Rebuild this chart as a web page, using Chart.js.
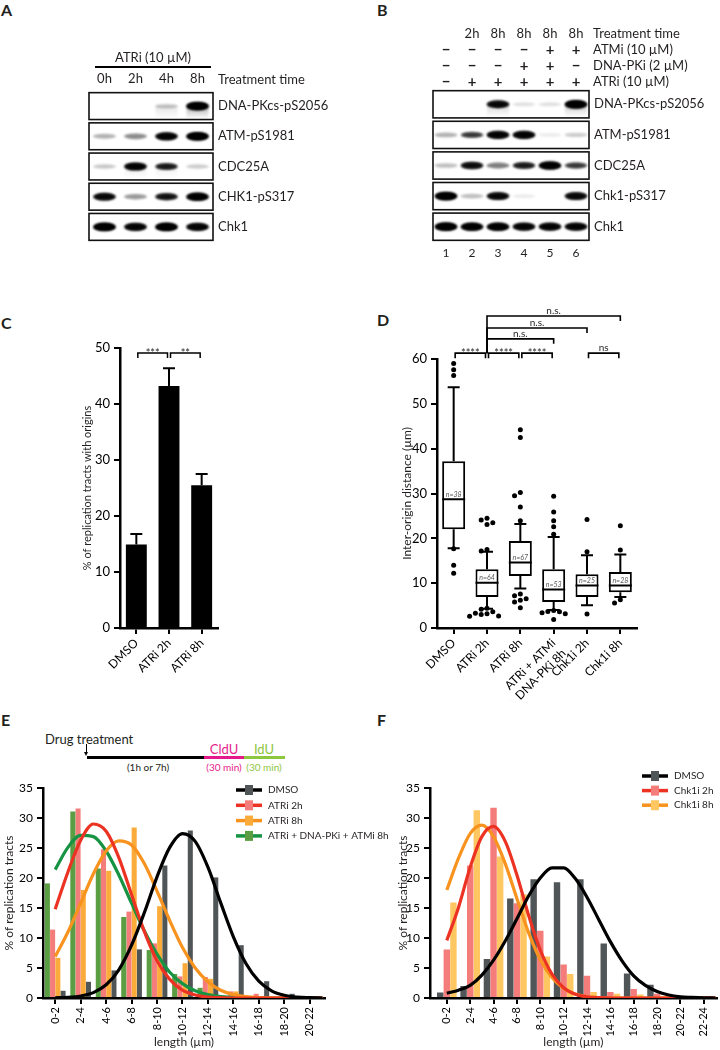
<!DOCTYPE html>
<html>
<head>
<meta charset="utf-8">
<script src="https://cdn.jsdelivr.net/npm/chart.js@4.4.1/dist/chart.umd.min.js"></script>
<style>
  body { margin: 0; background: #fff; width: 720px; height: 1050px; position: relative; overflow: hidden;
         font-family: Lato, "Open Sans", sans-serif; color: #231f20; }
  canvas { position: absolute; }
  .panel { position: absolute; font-size: 16px; font-weight: 700; line-height: 1; }
  .t { position: absolute; white-space: nowrap; line-height: 1; text-align: center; }
  .bar { position: absolute; height: 3px; }
</style>
</head>
<body>
<div class="panel" style="left:1px;top:2px">A</div>
<div class="panel" style="left:377px;top:2px">B</div>
<div class="panel" style="left:1px;top:315px">C</div>
<div class="panel" style="left:377px;top:312px">D</div>
<div class="panel" style="left:1px;top:712px">E</div>
<div class="panel" style="left:377px;top:712px">F</div>

<!-- labelling scheme for panel E -->
<div class="t" style="left:45px;top:733px;font-size:13px;text-align:left">Drug treatment</div>
<div style="position:absolute;left:86px;top:744px;width:1px;height:10px;background:#000"></div>
<div style="position:absolute;left:84px;top:752px;width:0;height:0;border-left:2.5px solid transparent;border-right:2.5px solid transparent;border-top:4px solid #000"></div>
<div class="bar" style="left:87px;top:756px;width:117px;background:#000"></div>
<div class="bar" style="left:204px;top:756px;width:40px;background:#e6198b"></div>
<div class="bar" style="left:244px;top:756px;width:41px;background:#8dc63f"></div>
<div class="t" style="left:108px;top:762px;width:80px;font-size:10px">(1h or 7h)</div>
<div class="t" style="left:194px;top:743px;width:60px;font-size:13px;color:#e6198b">CldU</div>
<div class="t" style="left:234px;top:743px;width:60px;font-size:13px;color:#8dc63f">IdU</div>
<div class="t" style="left:194px;top:762px;width:60px;font-size:10px;color:#e6198b">(30 min)</div>
<div class="t" style="left:234px;top:762px;width:60px;font-size:10px;color:#8dc63f">(30 min)</div>

<canvas id="blotA" width="360" height="215" style="left:0;top:40px"></canvas>
<canvas id="blotB" width="360" height="262" style="left:360px;top:0"></canvas>
<canvas id="chartC" width="190" height="400" style="left:40px;top:300px"></canvas>
<canvas id="chartD" width="290" height="400" style="left:360px;top:300px"></canvas>
<canvas id="chartE" width="400" height="280" style="left:0;top:770px"></canvas>
<canvas id="chartF" width="360" height="280" style="left:360px;top:770px"></canvas>

<script>
const FONT = 'Lato, "Open Sans", sans-serif';
const INK = '#231f20';

// ---- A: western blot, ATRi time course ----
const lanesA = ['0h', '2h', '4h', '8h'];
const rowsA = ['DNA-PKcs-pS2056', 'ATM-pS1981', 'CDC25A', 'CHK1-pS317', 'Chk1'];
const bandsA = [
  [0, 0, 0.22, 1.0],
  [0.3, 0.45, 0.9, 1.0],
  [0.22, 0.9, 0.7, 0.2],
  [0.85, 0.4, 0.75, 0.95],
  [1.0, 0.9, 1.0, 0.9],
];
const smearA = [
  [0, 0, 0.1, 0.3],
  [0, 0, 0, 0],
  [0, 0.06, 0.05, 0],
  [0, 0, 0, 0],
  [0, 0, 0, 0],
];
const treatA = 'ATRi (10 µM)';

// ---- B: western blot, inhibitor combinations ----
const lanesB = ['1', '2', '3', '4', '5', '6'];
const timesB = ['', '2h', '8h', '8h', '8h', '8h'];
const atmiB = ['−', '−', '−', '−', '+', '+'];
const dnapkiB = ['−', '−', '−', '+', '+', '−'];
const atriB = ['−', '+', '+', '+', '+', '+'];
const rowsB = ['DNA-PKcs-pS2056', 'ATM-pS1981', 'CDC25A', 'Chk1-pS317', 'Chk1'];
const bandsB = [
  [0, 0, 0.85, 0.12, 0.12, 1.0],
  [0.3, 0.55, 0.9, 0.9, 0.08, 0.2],
  [0.25, 0.8, 0.5, 0.7, 0.95, 0.55],
  [1.0, 0.25, 0.85, 0.08, 0, 0.85],
  [1.0, 0.95, 0.95, 0.9, 0.9, 0.9],
];
const smearB = [
  [0, 0, 0.15, 0, 0, 0.2],
  [0, 0, 0, 0, 0, 0],
  [0, 0, 0, 0, 0, 0],
  [0, 0, 0, 0, 0, 0],
  [0, 0, 0, 0, 0, 0],
];

// ---- C: % of tracts with origins ----
const catsC = ['DMSO', 'ATRi 2h', 'ATRi 8h'];
const meansC = [14.9, 43.2, 25.5];
const semC = [1.9, 3.2, 2.0];
const sigC = [
  { a: 0, b: 1, lvl: 49.1, txt: '***' },
  { a: 1, b: 2, lvl: 49.1, txt: '**' },
];

// ---- D: inter-origin distance box plots ----
const catsD = ['DMSO', 'ATRi 2h', 'ATRi 8h', ['ATRi + ATMi', '+ DNA-PKi 8h'], 'Chk1i 2h', 'Chk1i 8h'];
const q1D = [22.0, 6.9, 11.6, 5.8, 6.9, 8.0];
const medD = [28.7, 10.1, 14.6, 8.6, 9.5, 9.5];
const q3D = [37.2, 13.1, 19.4, 13.1, 12.0, 12.5];
const loD = [17.8, 4.3, 8.8, 4.0, 5.1, 6.9];
const hiD = [53.7, 17.0, 23.2, 20.3, 16.2, 16.4];
const nD = ['n=38', 'n=64', 'n=67', 'n=53', 'n=25', 'n=28'];
const outD = [
  [59.0, 57.6, 56.3, 17.7, 14.0, 12.2],
  [24.5, 24.1, 23.5, 23.1, 17.5, 17.2, 4.4, 4.2, 3.6, 3.3, 3.2, 3.0, 2.7, 2.6],
  [44.2, 42.5, 30.2, 29.5, 27.0, 23.9, 7.6, 7.2, 6.5, 6.2, 5.8, 4.5],
  [29.4, 25.9, 23.9, 22.6, 20.9, 3.9, 3.7, 3.6, 3.4, 3.2, 1.9],
  [24.2, 17.0, 3.1],
  [22.8, 17.4, 6.3, 5.6],
];
const sigD = [
  { a: 0, b: 1, lvl: 61.3, txt: '****' },
  { a: 1, b: 2, lvl: 61.3, txt: '****' },
  { a: 2, b: 3, lvl: 61.3, txt: '****' },
  { a: 4, b: 5, lvl: 61.3, txt: 'ns' },
  { a: 1, b: 3, lvl: 64.5, txt: 'n.s.' },
  { a: 1, b: 4, lvl: 66.9, txt: 'n.s.' },
  { a: 1, b: 5, lvl: 69.6, txt: 'n.s.' },
];

// ---- E: tract length distributions, ATRi ----
const binsE = ['0-2', '2-4', '4-6', '6-8', '8-10', '10-12', '12-14', '14-16', '16-18', '18-20', '20-22'];
const dmsoE = [1.2, 2.7, 4.6, 8.1, 22.1, 27.9, 20.1, 8.8, 2.8, 0.7, 0];
const atr2E = [11.4, 31.6, 24.8, 14.4, 9.1, 3.6, 3.5, 1.1, 0.7, 0.1, 0];
const atr8E = [6.7, 18.0, 21.2, 28.4, 15.3, 5.8, 3.2, 1.1, 0.3, 0.1, 0];
const comboE = [19.1, 31.1, 21.6, 13.5, 8.0, 4.0, 1.7, 0, 0, 0, 0];
const fitXE = [0, 0.5, 1, 1.5, 2, 2.5, 3, 3.5, 4, 4.5, 5, 5.5, 6, 6.5, 7, 7.5, 8, 8.5, 9, 9.5, 10, 10.5];
const fitDmsoE = [0.03, 0.1, 0.34, 0.9, 2.2, 4.7, 8.8, 14.2, 20.2, 25.1, 27.4, 26.1, 21.8, 15.9, 10.2, 5.7, 2.8, 1.2, 0.45, 0.15, 0.05, 0];
const fitAtr2E = [14.8, 21.0, 26.3, 29.0, 27.8, 23.4, 17.2, 11.1, 6.2, 3.1, 1.3, 0.5, 0.15, 0.05, 0, 0, 0, 0, 0, 0, 0, 0];
const fitAtr8E = [6.9, 11.0, 15.8, 20.7, 24.5, 26.2, 25.5, 22.4, 17.8, 12.9, 8.4, 5.0, 2.7, 1.3, 0.57, 0.23, 0.08, 0.03, 0, 0, 0, 0];
const fitComboE = [21.4, 25.1, 27.1, 26.9, 24.5, 20.5, 15.8, 11.2, 7.3, 4.3, 2.4, 1.2, 0.56, 0.23, 0.1, 0.03, 0, 0, 0, 0, 0, 0];

// ---- F: tract length distributions, Chk1i ----
const binsF = ['0-2', '2-4', '4-6', '6-8', '8-10', '10-12', '12-14', '14-16', '16-18', '18-20', '20-22', '22-24'];
const dmsoF = [0.9, 2.0, 6.5, 16.6, 19.8, 19.3, 19.8, 9.1, 4.1, 2.2, 0.3, 0];
const chk2F = [8.1, 22.1, 31.7, 15.8, 11.2, 5.6, 3.7, 1.0, 1.5, 0.7, 0.1, 0];
const chk8F = [15.9, 31.3, 23.6, 17.3, 6.9, 4.0, 1.0, 0.7, 0.6, 0.3, 0, 0];
const fitXF = [0, 0.5, 1, 1.5, 2, 2.5, 3, 3.5, 4, 4.5, 5, 5.5, 6, 6.5, 7, 7.5, 8, 8.5, 9, 9.5, 10, 10.5, 11, 11.5];
const fitDmsoF = [0.8, 1.3, 2.1, 3.8, 6.3, 9.5, 13.2, 17.0, 20.0, 21.7, 21.7, 19.9, 16.8, 13.1, 9.4, 6.2, 3.7, 2.1, 1.07, 0.5, 0.2, 0.1, 0.03, 0];
const fitChk2F = [9.6, 15.1, 21.8, 26.9, 28.6, 26.1, 20.5, 13.8, 8.0, 4.0, 1.7, 0.63, 0.2, 0.05, 0, 0, 0, 0, 0, 0, 0, 0, 0, 0];
const fitChk8F = [18.0, 23.3, 27.4, 28.8, 26.9, 22.4, 16.6, 10.9, 6.4, 3.4, 1.6, 0.65, 0.24, 0.08, 0, 0, 0, 0, 0, 0, 0, 0, 0, 0];

Chart.defaults.font.family = FONT;
Chart.defaults.color = INK;
Chart.defaults.animation = false;
Chart.defaults.responsive = false;
Chart.defaults.plugins.legend.display = false;
Chart.defaults.plugins.tooltip.enabled = false;

// ---------- western blots ----------
function drawBand(ctx, x, y, v, s, boxH) {
  ctx.save();
  if (s > 0) {
    const g = ctx.createLinearGradient(0, y, 0, y + boxH * 0.48);
    g.addColorStop(0, `rgba(0,0,0,${s})`);
    g.addColorStop(1, 'rgba(0,0,0,0)');
    ctx.filter = 'blur(1px)';
    ctx.fillStyle = g;
    ctx.fillRect(x - 11, y, 22, boxH * 0.48);
  }
  if (v > 0) {
    ctx.filter = 'blur(1.3px)';
    ctx.fillStyle = `rgba(0,0,0,${Math.min(1, v)})`;
    ctx.beginPath();
    ctx.ellipse(x, y, 11.5, 1.6 + 2.8 * v, 0, 0, Math.PI * 2);
    ctx.fill();
    if (v > 0.5) {
      ctx.beginPath();
      ctx.ellipse(x, y, 10, 1 + 2.2 * v, 0, 0, Math.PI * 2);
      ctx.fill();
    }
  }
  ctx.restore();
}

const blotPlugin = {
  id: 'blotBands',
  afterDatasetsDraw(chart) {
    const { ctx, chartArea: ca, scales: { y } } = chart;
    const step = Math.abs(y.getPixelForValue(1) - y.getPixelForValue(0));
    const boxH = step * 0.89;
    const pts = chart.data.datasets[0].data;
    chart.getDatasetMeta(0).data.forEach((el, i) => {
      const cy = el.y;
      ctx.save();
      ctx.beginPath();
      ctx.rect(ca.left, cy - boxH / 2, ca.right - ca.left, boxH);
      ctx.clip();
      drawBand(ctx, el.x, el.y, pts[i].v, pts[i].s, boxH);
      ctx.restore();
    });
    ctx.save();
    ctx.strokeStyle = '#111';
    ctx.lineWidth = 1.6;
    y.getLabels().forEach((_, r) => {
      const cy = y.getPixelForValue(r);
      ctx.strokeRect(ca.left, cy - boxH / 2, ca.right - ca.left, boxH);
    });
    ctx.restore();
  }
};

function blotChart(id, lanes, rows, bands, smear, xPos, xHeight, yWidth, padding, header) {
  const pts = [];
  rows.forEach((r, ri) => lanes.forEach((l, li) => pts.push({ x: l, y: r, v: bands[ri][li], s: smear[ri][li] })));
  return new Chart(document.getElementById(id), {
    type: 'scatter',
    data: { datasets: [{ data: pts, pointRadius: 0, pointHoverRadius: 0 }] },
    options: {
      events: [],
      layout: { padding },
      scales: {
        x: {
          type: 'category', labels: lanes, position: xPos, offset: true,
          grid: { display: false, drawTicks: false }, border: { display: false },
          ticks: { font: { size: xPos === 'top' ? 13 : 12 }, color: INK, padding: 4 },
          afterFit: s => { s.height = xHeight; },
        },
        y: {
          type: 'category', labels: rows, position: 'right', offset: true,
          grid: { display: false, drawTicks: false }, border: { display: false },
          ticks: { font: { size: 13 }, color: INK, padding: 5 },
          afterFit: s => { s.width = yWidth; },
        },
      },
    },
    plugins: [blotPlugin, header],
  });
}

const headerA = {
  id: 'headerA',
  afterDraw(chart) {
    const { ctx, chartArea: ca } = chart;
    ctx.save();
    ctx.fillStyle = INK;
    ctx.font = `13px ${FONT}`;
    ctx.textBaseline = 'middle';
    const l = ca.left + 6, r = ca.right - 2;
    ctx.textAlign = 'center';
    ctx.fillText(treatA, (l + r) / 2, 18);
    ctx.lineWidth = 2;
    ctx.strokeStyle = '#000';
    ctx.beginPath(); ctx.moveTo(l, 27); ctx.lineTo(r, 27); ctx.stroke();
    ctx.textAlign = 'left';
    ctx.fillText('Treatment time', ca.right + 5, ca.top - 11);
    ctx.restore();
  }
};

const headerB = {
  id: 'headerB',
  afterDraw(chart) {
    const { ctx, chartArea: ca, scales: { x } } = chart;
    const rows = [
      ['Treatment time', timesB],
      ['ATMi (10 µM)', atmiB],
      ['DNA-PKi (2 µM)', dnapkiB],
      ['ATRi (10 µM)', atriB],
    ];
    ctx.save();
    ctx.fillStyle = INK;
    ctx.textBaseline = 'middle';
    rows.forEach(([label, vals], k) => {
      const cy = ca.top - 55 + k * 16;
      ctx.textAlign = 'center';
      vals.forEach((v, i) => {
        ctx.font = k === 0 ? `13px ${FONT}` : `bold 15px ${FONT}`;
        ctx.fillText(v, x.getPixelForValue(i), cy);
      });
      ctx.font = `13px ${FONT}`;
      ctx.textAlign = 'left';
      ctx.fillText(label, ca.right + 4, cy);
    });
    ctx.restore();
  }
};

blotChart('blotA', lanesA, rowsA, bandsA, smearA, 'top', 20, 147, { left: 89, top: 31, right: 0, bottom: 13 }, headerA);
blotChart('blotB', lanesB, rowsB, bandsB, smearB, 'bottom', 20, 131, { left: 73, top: 89, right: 0, bottom: 0 }, headerB);

// ---------- shared helpers ----------
function bracket(ctx, x1, x2, yTop, leg1, leg2, text) {
  ctx.beginPath();
  ctx.moveTo(x1, leg1); ctx.lineTo(x1, yTop); ctx.lineTo(x2, yTop); ctx.lineTo(x2, leg2);
  ctx.stroke();
  const star = text.indexOf('*') === 0;
  ctx.font = star ? `11px ${FONT}` : `10px ${FONT}`;
  ctx.textAlign = 'center';
  ctx.textBaseline = 'alphabetic';
  ctx.fillText(text, (x1 + x2) / 2, star ? yTop + 4 : yTop - 2);
}

function prismY(min, max, step, size, title, titleSize, titlePad, width) {
  return {
    min, max,
    ticks: { stepSize: step, font: { size }, color: '#000', padding: 4 },
    grid: { drawOnChartArea: false, tickLength: 6, color: '#000', lineWidth: 2 },
    border: { color: '#000', width: 2.5 },
    title: { display: true, text: title, color: INK, font: { size: titleSize }, padding: { top: titlePad, bottom: 0 } },
    afterFit: s => { s.width = width; },
  };
}

// ---------- C ----------
const extrasC = {
  id: 'extrasC',
  afterDatasetsDraw(chart) {
    const { ctx, scales: { x, y } } = chart;
    ctx.save();
    ctx.strokeStyle = '#000';
    ctx.lineWidth = 2;
    meansC.forEach((m, i) => {
      const px = x.getPixelForValue(i);
      const top = y.getPixelForValue(m + semC[i]);
      ctx.beginPath();
      ctx.moveTo(px, y.getPixelForValue(m)); ctx.lineTo(px, top);
      ctx.moveTo(px - 6, top); ctx.lineTo(px + 6, top);
      ctx.stroke();
    });
    ctx.lineWidth = 1.5;
    ctx.fillStyle = INK;
    sigC.forEach(s => {
      const yl = y.getPixelForValue(s.lvl);
      bracket(ctx, x.getPixelForValue(s.a) + 1.5, x.getPixelForValue(s.b) - 1.5, yl, yl + 5, yl + 5, s.txt);
    });
    ctx.restore();
  }
};

new Chart(document.getElementById('chartC'), {
  type: 'bar',
  data: { labels: catsC, datasets: [{ data: meansC, backgroundColor: '#000', barPercentage: 0.64, categoryPercentage: 1 }] },
  options: {
    events: [],
    layout: { padding: { top: 48, right: 12, left: 0, bottom: 0 } },
    scales: {
      x: {
        grid: { drawOnChartArea: false, offset: false, tickLength: 6, color: '#000', lineWidth: 2 },
        border: { color: '#000', width: 2.5 },
        ticks: { autoSkip: false, minRotation: 45, maxRotation: 45, font: { size: 12 }, color: '#000', padding: 2 },
        afterFit: s => { s.height = 72; },
      },
      y: prismY(0, 50, 10, 13, '% of replication tracts with origins', 11, 41, 80),
    },
  },
  plugins: [extrasC],
});

// ---------- D ----------
function swarm(values, y, cx, r) {
  const placed = [];
  values.slice().sort((a, b) => b - a).forEach(v => {
    const py = y.getPixelForValue(v);
    for (const k of [0, -1, 1, -2, 2, -3, 3]) {
      const px = cx + k * (2 * r + 0.8);
      if (placed.every(p => Math.hypot(p.x - px, p.y - py) >= 2 * r + 0.2)) {
        placed.push({ x: px, y: py });
        break;
      }
    }
  });
  return placed;
}

const extrasD = {
  id: 'extrasD',
  afterDatasetsDraw(chart) {
    const { ctx, scales: { x, y } } = chart;
    const meta = chart.getDatasetMeta(0);
    ctx.save();
    ctx.strokeStyle = '#000';
    ctx.fillStyle = '#000';
    ctx.lineWidth = 2;
    medD.forEach((m, i) => {
      const px = x.getPixelForValue(i);
      const hw = meta.data[i].width / 2;
      const pm = y.getPixelForValue(m);
      ctx.beginPath();
      ctx.moveTo(px - hw, pm); ctx.lineTo(px + hw, pm);
      ctx.moveTo(px, y.getPixelForValue(q3D[i])); ctx.lineTo(px, y.getPixelForValue(hiD[i]));
      ctx.moveTo(px - 6, y.getPixelForValue(hiD[i])); ctx.lineTo(px + 6, y.getPixelForValue(hiD[i]));
      ctx.moveTo(px, y.getPixelForValue(q1D[i])); ctx.lineTo(px, y.getPixelForValue(loD[i]));
      ctx.moveTo(px - 6, y.getPixelForValue(loD[i])); ctx.lineTo(px + 6, y.getPixelForValue(loD[i]));
      ctx.stroke();
      swarm(outD[i], y, px, 2.5).forEach(p => {
        ctx.beginPath(); ctx.arc(p.x, p.y, 2.5, 0, Math.PI * 2); ctx.fill();
      });
    });
    ctx.fillStyle = '#58595b';
    ctx.font = `italic 7px ${FONT}`;
    ctx.textAlign = 'center';
    ctx.textBaseline = 'bottom';
    nD.forEach((t, i) => ctx.fillText(t, x.getPixelForValue(i), y.getPixelForValue(medD[i]) - 1.5));

    ctx.lineWidth = 1.6;
    ctx.strokeStyle = '#000';
    ctx.fillStyle = INK;
    const base = Math.min(...sigD.map(s => s.lvl));
    sigD.forEach(s => {
      const yl = y.getPixelForValue(s.lvl);
      const atBase = s.lvl === base;
      const inset = atBase ? 1.5 : 0;
      const leg1 = atBase ? yl + 5 : y.getPixelForValue(base);
      bracket(ctx, x.getPixelForValue(s.a) + inset, x.getPixelForValue(s.b) - inset, yl, leg1, yl + 5, s.txt);
    });
    ctx.restore();
  }
};

new Chart(document.getElementById('chartD'), {
  type: 'bar',
  data: {
    labels: catsD,
    datasets: [{
      data: q1D.map((q, i) => [q, q3D[i]]),
      backgroundColor: '#fff', borderColor: '#000', borderWidth: 2, borderSkipped: false,
      barPercentage: 0.69, categoryPercentage: 1,
    }],
  },
  options: {
    events: [],
    layout: { padding: { top: 59, right: 13, left: 0, bottom: 0 } },
    scales: {
      x: {
        grid: { drawOnChartArea: false, offset: false, tickLength: 6, color: '#000', lineWidth: 2 },
        border: { color: '#000', width: 2.5 },
        ticks: { autoSkip: false, minRotation: 45, maxRotation: 45, font: { size: 12 }, color: '#000', padding: 2 },
        afterFit: s => { s.height = 72; },
      },
      y: prismY(0, 60, 10, 13, 'Inter-origin distance (µm)', 12, 40, 77),
    },
  },
  plugins: [extrasD],
});

// ---------- E & F ----------
function pairLegend(items, x0, y0, step) {
  return {
    id: 'pairLegend',
    afterDraw(chart) {
      const { ctx } = chart;
      ctx.save();
      ctx.font = `10px ${FONT}`;
      ctx.textBaseline = 'middle';
      ctx.textAlign = 'left';
      items.forEach((it, k) => {
        const yy = y0 + k * step;
        ctx.strokeStyle = it.line;
        ctx.lineWidth = 3.5;
        ctx.beginPath(); ctx.moveTo(x0, yy); ctx.lineTo(x0 + 26, yy); ctx.stroke();
        ctx.fillStyle = it.fill;
        ctx.fillRect(x0 + 9, yy - 5, 8, 10);
        ctx.fillStyle = INK;
        ctx.fillText(it.label, x0 + 32, yy);
      });
      ctx.restore();
    }
  };
}

function histChart(id, bins, xMin, xMax, bars, fits, fitX, yWidth, titlePad, rightPad, legend) {
  const datasets = [];
  fits.forEach(f => datasets.push({
    type: 'line', order: 0,
    data: fitX.map((x, k) => ({ x, y: f.data[k] })),
    borderColor: f.color, borderWidth: 3.2, pointRadius: 0, fill: false,
    cubicInterpolationMode: 'monotone',
  }));
  bars.forEach(b => datasets.push({
    type: 'bar', order: 1,
    data: b.data.map((v, i) => ({ x: i, y: v })),
    backgroundColor: b.color, borderWidth: 0,
    barPercentage: 0.97, categoryPercentage: b.cat,
  }));
  return new Chart(document.getElementById(id), {
    type: 'bar',
    data: { datasets },
    options: {
      events: [],
      layout: { padding: { top: 18, right: rightPad, left: 0, bottom: 0 } },
      scales: {
        x: {
          type: 'linear', min: xMin, max: xMax, offset: false,
          afterBuildTicks: s => { s.ticks = bins.map((_, i) => ({ value: i })); },
          ticks: { callback: v => bins[v], autoSkip: false, minRotation: 90, maxRotation: 90, font: { size: 11 }, color: '#000', padding: 3 },
          grid: { drawOnChartArea: false, offset: false, tickLength: 6, color: '#000', lineWidth: 2 },
          border: { color: '#000', width: 2.5 },
          title: { display: true, text: 'length (µm)', color: INK, font: { size: 12 }, padding: { top: 0, bottom: 1 } },
          afterFit: s => { s.height = 52; },
        },
        y: prismY(0, 35, 5, 12, '% of replication tracts', 12, titlePad, yWidth),
      },
    },
    plugins: [legend],
  });
}

histChart('chartE', binsE, -0.48, 10.6,
  [
    { data: comboE, color: '#5b9d43', cat: 0.82 },
    { data: atr2E, color: '#f47c7a', cat: 0.82 },
    { data: atr8E, color: '#fbab3a', cat: 0.82 },
    { data: dmsoE, color: '#505558', cat: 0.82 },
  ],
  [
    { data: fitDmsoE, color: '#000' },
    { data: fitAtr2E, color: '#ec3323' },
    { data: fitAtr8E, color: '#f7931e' },
    { data: fitComboE, color: '#179443' },
  ],
  fitXE, 43, 2, 75,
  pairLegend([
    { label: 'DMSO', line: '#000', fill: '#505558' },
    { label: 'ATRi 2h', line: '#ec3323', fill: '#f47c7a' },
    { label: 'ATRi 8h', line: '#f7931e', fill: '#fbab3a' },
    { label: 'ATRi + DNA-PKi + ATMi 8h', line: '#179443', fill: '#5b9d43' },
  ], 236, 20, 15.3));

histChart('chartF', binsF, -0.72, 11.55,
  [
    { data: dmsoF, color: '#505558', cat: 0.85 },
    { data: chk2F, color: '#f47c7a', cat: 0.85 },
    { data: chk8F, color: '#fec762', cat: 0.85 },
  ],
  [
    { data: fitDmsoF, color: '#000' },
    { data: fitChk2F, color: '#ec3323' },
    { data: fitChk8F, color: '#f7931e' },
  ],
  fitXF, 70, 36, 0,
  pairLegend([
    { label: 'DMSO', line: '#000', fill: '#505558' },
    { label: 'Chk1i 2h', line: '#ec3323', fill: '#f47c7a' },
    { label: 'Chk1i 8h', line: '#f7931e', fill: '#fec762' },
  ], 282, 6, 14.6));
</script>
</body>
</html>
